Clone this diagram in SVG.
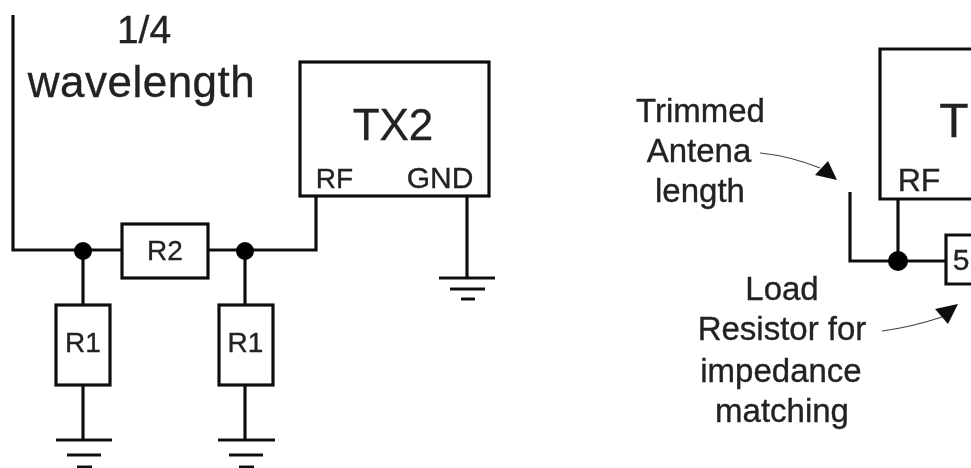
<svg xmlns="http://www.w3.org/2000/svg" width="971" height="468" viewBox="0 0 971 468">
<style>
.w{fill:none;stroke:#111;stroke-width:3.2}
.b{fill:#fff;stroke:#111;stroke-width:3.2}
.d{fill:#000}
.g{fill:none;stroke:#111;stroke-width:3.2}
.t{font-family:"Liberation Sans",Arial,sans-serif;fill:#222;stroke:#222;stroke-width:.35;text-anchor:middle}
.l{font-size:33px}.m{font-size:28px}.h{font-size:44px}
.a{fill:none;stroke:#444;stroke-width:1.2}
.p{fill:#111}
</style>
<defs><filter id="s" x="-5%" y="-5%" width="110%" height="110%"><feGaussianBlur stdDeviation="0.5"/></filter></defs>
<rect width="971" height="468" fill="#fff"/>
<g filter="url(#s)">
<g id="connectors">
<path class="w" d="M13 15V250H122M208 250H316V196"/>
<path class="w" d="M83 251V305M83 385V440"/>
<path class="w" d="M245 251V305M245 385V440"/>
<path class="w" d="M467 196V278"/>
<path class="w" d="M850 192V261H946M898 199V261"/>
<path class="a" d="M760 153Q790 156 820 168"/>
<path class="a" d="M882 331Q912 327 942 317"/>
<path class="p" d="M837 180L815 175L828 161Z"/>
<path class="p" d="M958 304L935 309L948 324Z"/>
</g>
<g id="junctions">
<circle class="d" cx="83" cy="251" r="9"/>
<circle class="d" cx="245" cy="251" r="9"/>
<circle class="d" cx="898" cy="261" r="10"/>
</g>
<g id="antenna-label"><text class="t" x="144" y="43" style="font-size:39px">1/4</text><text class="t" x="141.500" y="97" style="font-size:44px;letter-spacing:.5px">wavelength</text></g>
<g id="R2"><rect class="b" x="122" y="224" width="86" height="54"/><text class="t m" x="165" y="260">R2</text></g>
<g id="R1a"><rect class="b" x="56" y="305" width="54" height="80"/><text class="t m" x="83" y="352">R1</text></g>
<g id="R1b"><rect class="b" x="219" y="305" width="54" height="80"/><text class="t m" x="245.500" y="352">R1</text></g>
<g id="TX2"><rect class="b" x="300" y="62" width="189" height="134"/><text class="t h" x="393" y="140">TX2</text><text class="t m" x="334.500" y="188">RF</text><text class="t" x="440" y="188" style="font-size:30px">GND</text></g>
<g id="gnd1"><path class="g" d="M56 440H112M67 455H101M77 467H92"/></g>
<g id="gnd2"><path class="g" d="M218 440H275M229 455H263M239 467H254"/></g>
<g id="gnd3"><path class="g" d="M439 278H495M450 289H485M461 299H475"/></g>
<g id="TX2-right"><path class="w" d="M971 49H880V199H971"/><text class="t" x="954" y="137" style="font-size:48px">T</text><text class="t" x="919" y="191" style="font-size:32px">RF</text></g>
<g id="load"><path class="w" d="M971 235H946V284H971"/><text class="t" x="961" y="270" style="font-size:30px">5</text></g>
<g id="label-trimmed"><text class="t l" x="700.500" y="122">Trimmed</text><text class="t l" x="699" y="162">Antena</text><text class="t l" x="700" y="202">length</text></g>
<g id="label-load"><text class="t l" x="782" y="300">Load</text><text class="t l" x="782" y="340">Resistor for</text><text class="t l" x="781" y="382">impedance</text><text class="t l" x="782" y="422">matching</text></g>
</g>
</svg>
